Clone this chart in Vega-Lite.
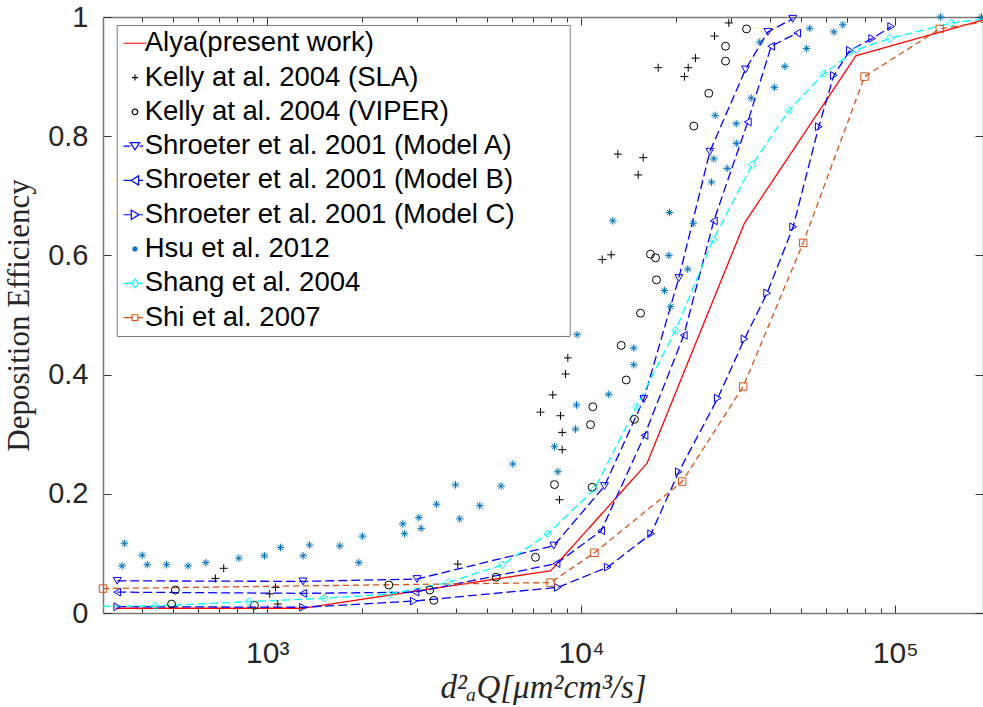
{
  "$schema": "https://vega.github.io/schema/vega-lite/v6.json",
  "autosize": "none",
  "width": 880,
  "height": 596,
  "padding": {"left": 103, "top": 17, "right": 0, "bottom": 94},
  "background": "white",
  "config": {"view": {"stroke": null}},
  "data": {"values": [
    {"s":"A","x":330,"y":0.008},{"s":"A","x":1300,"y":0.008},{"s":"A","x":8000,"y":0.071},{"s":"A","x":16200,"y":0.251},{"s":"A","x":33100,"y":0.654},{"s":"A","x":75000,"y":0.935},{"s":"A","x":190400,"y":0.995},
    {"s":"K1","x":684,"y":0.058},{"s":"K1","x":727,"y":0.075},{"s":"K1","x":1019,"y":0.032},{"s":"K1","x":1063,"y":0.043},{"s":"K1","x":1081,"y":0.015},{"s":"K1","x":4046,"y":0.082},{"s":"K1","x":7420,"y":0.337},{"s":"K1","x":8120,"y":0.366},{"s":"K1","x":8530,"y":0.19},{"s":"K1","x":8595,"y":0.331},{"s":"K1","x":8700,"y":0.274},{"s":"K1","x":8700,"y":0.303},{"s":"K1","x":8913,"y":0.401},{"s":"K1","x":9066,"y":0.428},{"s":"K1","x":11667,"y":0.593},{"s":"K1","x":12460,"y":0.601},{"s":"K1","x":13085,"y":0.77},{"s":"K1","x":15190,"y":0.735},{"s":"K1","x":15760,"y":0.764},{"s":"K1","x":17590,"y":0.915},{"s":"K1","x":21330,"y":0.9},{"s":"K1","x":21920,"y":0.915},{"s":"K1","x":23130,"y":0.931},{"s":"K1","x":26580,"y":0.968},{"s":"K1","x":29520,"y":0.99},
    {"s":"K2","x":496,"y":0.015},{"s":"K2","x":510,"y":0.0386},{"s":"K2","x":911,"y":0.0129},{"s":"K2","x":2440,"y":0.047},{"s":"K2","x":3296,"y":0.0386},{"s":"K2","x":3394,"y":0.0213},{"s":"K2","x":5358,"y":0.06},{"s":"K2","x":7153,"y":0.0935},{"s":"K2","x":8222,"y":0.2155},{"s":"K2","x":10710,"y":0.316},{"s":"K2","x":10840,"y":0.211},{"s":"K2","x":10890,"y":0.346},{"s":"K2","x":13410,"y":0.449},{"s":"K2","x":13910,"y":0.391},{"s":"K2","x":14780,"y":0.325},{"s":"K2","x":15450,"y":0.503},{"s":"K2","x":16620,"y":0.602},{"s":"K2","x":17250,"y":0.596},{"s":"K2","x":17370,"y":0.559},{"s":"K2","x":22840,"y":0.817},{"s":"K2","x":25490,"y":0.872},{"s":"K2","x":28820,"y":0.926},{"s":"K2","x":28820,"y":0.951},{"s":"K2","x":33620,"y":0.98},
    {"s":"SA","x":333,"y":0.054},{"s":"SA","x":1300,"y":0.053},{"s":"SA","x":3000,"y":0.057},{"s":"SA","x":8180,"y":0.113},{"s":"SA","x":11865,"y":0.213},{"s":"SA","x":15830,"y":0.359},{"s":"SA","x":20460,"y":0.562},{"s":"SA","x":25690,"y":0.774},{"s":"SA","x":33370,"y":0.912},{"s":"SA","x":39300,"y":0.975},{"s":"SA","x":47190,"y":0.997},
    {"s":"SB","x":333,"y":0.035},{"s":"SB","x":1300,"y":0.033},{"s":"SB","x":2966,"y":0.035},{"s":"SB","x":8345,"y":0.083},{"s":"SB","x":11580,"y":0.138},{"s":"SB","x":15910,"y":0.298},{"s":"SB","x":21220,"y":0.466},{"s":"SB","x":26450,"y":0.658},{"s":"SB","x":33930,"y":0.824},{"s":"SB","x":40280,"y":0.951},{"s":"SB","x":48740,"y":0.973},
    {"s":"SC","x":333,"y":0.0106},{"s":"SC","x":1300,"y":0.0096},{"s":"SC","x":2931,"y":0.02},{"s":"SC","x":8427,"y":0.043},{"s":"SC","x":12150,"y":0.077},{"s":"SC","x":16700,"y":0.133},{"s":"SC","x":20460,"y":0.237},{"s":"SC","x":27230,"y":0.3605},{"s":"SC","x":33130,"y":0.46},{"s":"SC","x":39110,"y":0.537},{"s":"SC","x":47330,"y":0.648},{"s":"SC","x":57100,"y":0.816},{"s":"SC","x":63770,"y":0.902},{"s":"SC","x":71720,"y":0.944},{"s":"SC","x":84470,"y":0.964},{"s":"SC","x":97100,"y":0.984},
    {"s":"H","x":351,"y":0.117},{"s":"H","x":345,"y":0.079},{"s":"H","x":400,"y":0.097},{"s":"H","x":415,"y":0.081},{"s":"H","x":478,"y":0.081},{"s":"H","x":560,"y":0.079},{"s":"H","x":638,"y":0.0845},{"s":"H","x":812,"y":0.092},{"s":"H","x":980,"y":0.096},{"s":"H","x":1103,"y":0.11},{"s":"H","x":1302,"y":0.096},{"s":"H","x":1364,"y":0.114},{"s":"H","x":1703,"y":0.1125},{"s":"H","x":1958,"y":0.0845},{"s":"H","x":2011,"y":0.129},{"s":"H","x":2704,"y":0.1495},{"s":"H","x":2737,"y":0.133},{"s":"H","x":3040,"y":0.16},{"s":"H","x":3093,"y":0.142},{"s":"H","x":3461,"y":0.1825},{"s":"H","x":3978,"y":0.215},{"s":"H","x":4105,"y":0.158},{"s":"H","x":4754,"y":0.18},{"s":"H","x":5558,"y":0.213},{"s":"H","x":6056,"y":0.25},{"s":"H","x":8222,"y":0.279},{"s":"H","x":8427,"y":0.237},{"s":"H","x":9592,"y":0.3085},{"s":"H","x":9663,"y":0.349},{"s":"H","x":9710,"y":0.467},{"s":"H","x":12240,"y":0.367},{"s":"H","x":14710,"y":0.4445},{"s":"H","x":14710,"y":0.4165},{"s":"H","x":12610,"y":0.658},{"s":"H","x":19110,"y":0.672},{"s":"H","x":19250,"y":0.514},{"s":"H","x":18420,"y":0.541},{"s":"H","x":19020,"y":0.6},{"s":"H","x":21850,"y":0.577},{"s":"H","x":22740,"y":0.654},{"s":"H","x":26000,"y":0.723},{"s":"H","x":26450,"y":0.762},{"s":"H","x":26710,"y":0.835},{"s":"H","x":29170,"y":0.746},{"s":"H","x":31160,"y":0.821},{"s":"H","x":31200,"y":0.788},{"s":"H","x":34780,"y":0.864},{"s":"H","x":37050,"y":0.958},{"s":"H","x":41280,"y":0.882},{"s":"H","x":44520,"y":0.917},{"s":"H","x":52190,"y":0.947},{"s":"H","x":53460,"y":0.981},{"s":"H","x":63770,"y":0.975},{"s":"H","x":68110,"y":0.987},{"s":"H","x":139400,"y":1.0},{"s":"H","x":188300,"y":1.0},
    {"s":"SG","x":250,"y":0.011},{"s":"SG","x":441,"y":0.0118},{"s":"SG","x":874,"y":0.019},{"s":"SG","x":1522,"y":0.0247},{"s":"SG","x":2470,"y":0.032},{"s":"SG","x":3788,"y":0.0515},{"s":"SG","x":5602,"y":0.0806},{"s":"SG","x":7830,"y":0.1327},{"s":"SG","x":11020,"y":0.208},{"s":"SG","x":15010,"y":0.3464},{"s":"SG","x":19970,"y":0.474},{"s":"SG","x":26310,"y":0.626},{"s":"SG","x":35040,"y":0.752},{"s":"SG","x":45830,"y":0.843},{"s":"SG","x":59250,"y":0.905},{"s":"SG","x":75290,"y":0.945},{"s":"SG","x":96140,"y":0.964},{"s":"SG","x":150800,"y":0.99},{"s":"SG","x":200000,"y":0.998},
    {"s":"SH","x":300,"y":0.041},{"s":"SH","x":7990,"y":0.051},{"s":"SH","x":11020,"y":0.101},{"s":"SH","x":20970,"y":0.2205},{"s":"SH","x":32810,"y":0.38},{"s":"SH","x":50930,"y":0.621},{"s":"SH","x":79870,"y":0.9},{"s":"SH","x":138700,"y":0.98},{"s":"SH","x":200000,"y":0.993}
  ]},
  "resolve": {"axis": {"x": "independent", "y": "independent"}},
  "layer": [
    {
      "transform": [{"filter": "indexof(['A','SA','SB','SC','SG','SH'], datum.s) >= 0"}],
      "mark": {"type": "line", "clip": true, "strokeWidth": 1.3},
      "encoding": {
        "x": {"field": "x", "type": "quantitative",
          "scale": {"type": "log", "domain": [300, 190400], "nice": false},
          "axis": {"orient": "bottom", "grid": false,
            "values": [400,500,600,700,800,900,1000,2000,3000,4000,5000,6000,7000,8000,9000,10000,20000,30000,40000,50000,60000,70000,80000,90000,100000],
            "labelExpr": "datum.value == 1000 ? '10\u00b3' : datum.value == 10000 ? '10\u2074' : datum.value == 100000 ? '10\u2075' : ''",
            "tickSize": {"condition": {"test": "indexof([1000,10000,100000], datum.value) >= 0", "value": -8}, "value": -5},
            "labelPadding": 33, "labelFont": "Liberation Sans", "labelFontSize": 30, "labelColor": "#262626", "labelFlush": false, "labelOverlap": false,
            "title": "d\u00b2\u2090Q[\u03bcm\u00b2cm\u00b3/s]", "titleFont": "Liberation Serif", "titleFontStyle": "italic", "titleFontWeight": "normal", "titleFontSize": 33, "titleColor": "#262626", "titlePadding": 0,
            "domainColor": "#777", "domainWidth": 1.5, "tickColor": "#333", "tickWidth": 1}},
        "y": {"field": "y", "type": "quantitative",
          "scale": {"domain": [0, 1], "nice": false, "zero": false},
          "axis": {"orient": "left", "grid": false, "values": [0,0.2,0.4,0.6,0.8,1], "format": "~g",
            "tickSize": -8, "labelPadding": 23, "labelFont": "Liberation Sans", "labelFontSize": 29, "labelColor": "#262626", "labelFlush": false,
            "title": "Deposition Efficiency", "titleFont": "Liberation Serif", "titleFontSize": 31, "titleFontWeight": "normal", "titleColor": "#262626", "titlePadding": 12,
            "domainColor": "#777", "domainWidth": 1.5, "tickColor": "#333", "tickWidth": 1}},
        "detail": {"field": "s"},
        "color": {"field": "s", "type": "nominal",
          "scale": {"domain": ["A","K1","K2","SA","SB","SC","H","SG","SH"], "range": ["#FF0000","#000000","#000000","#0000FF","#0000FF","#0000FF","#0072BD","#00FFFF","#D95319"]},
          "legend": {"orient": "none", "legendX": 13.7, "legendY": 8, "title": null,
            "labelFont": "Liberation Sans", "labelFontSize": 27.5, "labelColor": "#000000", "labelLimit": 900, "labelOffset": -4,
            "symbolSize": 529, "rowPadding": 5.3, "padding": 4.5, "strokeColor": "#7f7f7f", "fillColor": "#ffffff",
            "labelExpr": "['Alya(present work)','Kelly at al. 2004 (SLA)','Kelly at al. 2004 (VIPER)','Shroeter et al. 2001 (Model A)','Shroeter et al. 2001 (Model B)','Shroeter et al. 2001 (Model C)','Hsu et al. 2012','Shang et al. 2004','Shi et al. 2007'][indexof(['A','K1','K2','SA','SB','SC','H','SG','SH'], datum.value)] + '\u00a0\u2800\u2800'",
            "encode": {"symbols": {"update": {
              "shape": {"signal": "['M-1,0H1','M-0.26,0H0.26M0,-0.26V0.26','M0.24,0A0.24,0.24,0,1,1,-0.24,0A0.24,0.24,0,1,1,0.24,0Z','M-1,0H-0.4M0.4,0H0.7M-0.4,-0.3H0.4L0,0.32Z','M-1,0H-0.35M0.32,0H0.7M-0.35,0L0.32,-0.4V0.4Z','M-1,0H-0.32M0.35,0H0.7M-0.32,-0.4V0.4L0.35,0Z','M-0.22,0H0.22M0,-0.22V0.22M-0.16,-0.16L0.16,0.16M-0.16,0.16L0.16,-0.16','M-1,0H-0.3M0.3,0H0.7M0,-0.38L0.3,0L0,0.38L-0.3,0Z','M-1,0H-0.25M0.25,0H0.7M-0.25,-0.25H0.25V0.25H-0.25Z'][indexof(['A','K1','K2','SA','SB','SC','H','SG','SH'], datum.value)]"},
              "stroke": {"signal": "scale('color', datum.value)"},
              "fill": {"value": "transparent"},
              "strokeWidth": {"signal": "datum.value == 'H' ? 2 : 1.2"},
              "strokeDash": {"value": [1, 0]},
              "opacity": {"value": 1},
              "size": {"value": 529}
            }}}
          }},
        "strokeDash": {"field": "s", "type": "nominal",
          "scale": {"domain": ["A","SA","SB","SC","SG","SH"], "range": [[1,0],[9,4],[9,4],[9,4],[8,4],[6,4]]},
          "legend": null}
      }
    },
    {
      "transform": [{"filter": "indexof(['K1','K2','SA','SB','SC','H','SG','SH'], datum.s) >= 0 && datum.x >= 300 && datum.x <= 190400"}],
      "mark": {"type": "point", "filled": false, "opacity": 1},
      "encoding": {
        "x": {"field": "x", "type": "quantitative",
          "scale": {"type": "log", "domain": [300, 190400], "nice": false},
          "axis": {"orient": "top", "grid": false, "labels": false, "title": null,
            "values": [400,500,600,700,800,900,1000,2000,3000,4000,5000,6000,7000,8000,9000,10000,20000,30000,40000,50000,60000,70000,80000,90000,100000],
            "tickSize": {"condition": {"test": "indexof([1000,10000,100000], datum.value) >= 0", "value": -8}, "value": -5},
            "domainColor": "#777", "domainWidth": 1.5, "tickColor": "#333", "tickWidth": 1}},
        "y": {"field": "y", "type": "quantitative",
          "scale": {"domain": [0, 1], "nice": false, "zero": false},
          "axis": {"orient": "right", "grid": false, "labels": false, "title": null, "values": [0,0.2,0.4,0.6,0.8,1],
            "tickSize": -8, "domainColor": "#777", "domainWidth": 1.5, "tickColor": "#333", "tickWidth": 1}},
        "color": {"field": "s", "type": "nominal", "legend": null},
        "shape": {"field": "s", "type": "nominal",
          "scale": {"domain": ["K1","K2","SA","SB","SC","H","SG","SH"],
            "range": ["M-1,0H1M0,-1V1","circle","triangle-down","triangle-left","triangle-right","M-1,0H1M0,-1V1M-0.7,-0.7L0.7,0.7M-0.7,0.7L0.7,-0.7","diamond","square"]},
          "legend": null},
        "size": {"field": "s", "type": "nominal",
          "scale": {"domain": ["K1","K2","SA","SB","SC","H","SG","SH"], "range": [64,56,64,64,64,40,64,36]},
          "legend": null},
        "strokeWidth": {"field": "s", "type": "nominal",
          "scale": {"domain": ["K1","K2","SA","SB","SC","H","SG","SH"], "range": [1,1,1,1,1,1.8,1,1]},
          "legend": null}
      }
    }
  ]
}
